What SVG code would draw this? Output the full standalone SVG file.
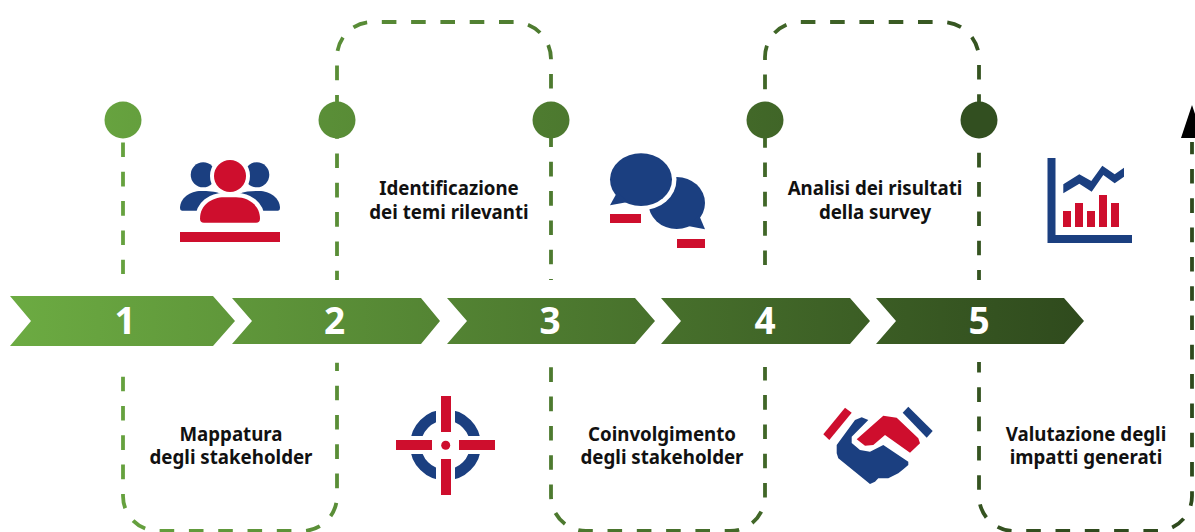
<svg xmlns="http://www.w3.org/2000/svg" width="1195" height="532" viewBox="0 0 1195 532">
<style>
.lbl{font:700 18.7px "Noto Sans","Open Sans",sans-serif;fill:#111;text-anchor:middle}
.num{font:700 37px "Noto Sans","Open Sans",sans-serif;fill:#fff;text-anchor:middle}
.dash{fill:none;stroke:url(#g);stroke-width:3.8;stroke-dasharray:14.6 14.7}
.blue{fill:#1b3f80}.red{fill:#ce0e2d}
</style>
<defs>
<linearGradient id="g" gradientUnits="userSpaceOnUse" x1="10" y1="0" x2="1084" y2="0">
<stop offset="0" stop-color="#6cab42"/><stop offset="1" stop-color="#2f4a1d"/>
</linearGradient>
</defs>
<rect width="1195" height="532" fill="#fff"/>
<g id="connectors">
<path class="dash" d="M123 142.500V274"/>
<path class="dash" d="M123 376.700V496A35 35 0 0 0 158 531H302A35 35 0 0 0 337 496V362.700"/>
<path class="dash" stroke-dashoffset="5.300" d="M337 280V57A35 35 0 0 1 372 22H514A37 37 0 0 1 551 59V280"/>
<path class="dash" d="M551 367.300V496A35 35 0 0 0 586 531H730A35 35 0 0 0 765 496V367"/>
<path class="dash" d="M765 265V57A35 35 0 0 1 800 22H942A37 37 0 0 1 979 59V280"/>
<path class="dash" stroke-dashoffset="4" d="M979 362V496A35 35 0 0 0 1014 531H1157A35 35 0 0 0 1192 496V142"/>
<polygon points="1192,105 1181,138 1203,138" fill="#000"/>
</g>
<g id="node-1">
<circle cx="123" cy="120" r="18.500" fill="url(#g)"/>
<polygon points="10,296 213,296 235,321 213,346 10,346 31,321" fill="url(#g)"/>
<text class="num" x="125" y="334">1</text>
<text class="lbl" x="231" y="441">Mappatura</text>
<text class="lbl" x="231" y="464">degli stakeholder</text>
<g id="icon-people">
<circle class="blue" cx="203.200" cy="174.800" r="12.500"/><circle class="blue" cx="256.800" cy="174.800" r="12.500"/>
<path class="blue" d="M182 210.700Q180 210.700 180 208C180 198 190 191 201 191C208 191 214 191 222 194L230 210.700Z"/>
<path class="blue" d="M278 210.700Q280 210.700 280 208C280 198 270 191 259 191C252 191 246 191 238 194L230 210.700Z"/>
<circle class="red" cx="230" cy="176" r="16" stroke="#fff" stroke-width="8" paint-order="stroke"/>
<path class="red" d="M204 222.700Q200 222.700 200 218.700C200 205 212 197.300 224 197.300H236C248 197.300 260 205 260 218.700Q260 222.700 256 222.700Z" stroke="#fff" stroke-width="9" paint-order="stroke"/>
<rect class="red" x="180" y="232" width="100" height="10"/>
</g>
</g>
<g id="node-2">
<circle cx="337" cy="120" r="18.500" fill="url(#g)"/>
<polygon points="232,298 421,298 440,321 421,344 232,344 252,321" fill="url(#g)"/>
<text class="num" x="334.500" y="334">2</text>
<text class="lbl" x="449" y="195">Identificazione</text>
<text class="lbl" x="449" y="219">dei temi rilevanti</text>
<g id="icon-target">
<circle cx="445.500" cy="445" r="30" fill="none" stroke="#1b3f80" stroke-width="11"/>
<rect x="436" y="396" width="19" height="99" fill="#fff"/>
<rect x="396" y="436" width="99" height="18" fill="#fff"/>
<rect class="red" x="441" y="396" width="10" height="36"/><rect class="red" x="441" y="459" width="10" height="36"/>
<rect class="red" x="396" y="440" width="36" height="10"/><rect class="red" x="459" y="440" width="36" height="10"/>
<circle class="red" cx="445.700" cy="445.300" r="4.500"/>
</g>
</g>
<g id="node-3">
<circle cx="551" cy="120" r="18.500" fill="url(#g)"/>
<polygon points="447,298 635,298 655,321 635,344 447,344 467,321" fill="url(#g)"/>
<text class="num" x="550" y="334">3</text>
<text class="lbl" x="662" y="441">Coinvolgimento</text>
<text class="lbl" x="662" y="464">degli stakeholder</text>
<g id="icon-chat">
<ellipse class="blue" cx="676.700" cy="203" rx="28.300" ry="26"/>
<polygon class="blue" points="699,215 705,229.300 688,226"/>
<ellipse cx="641" cy="179.600" rx="35.500" ry="30.800" fill="#fff"/>
<ellipse class="blue" cx="641" cy="179.600" rx="31" ry="26.300"/>
<polygon class="blue" points="617.300,192 610,205.300 628,202"/>
<rect class="red" x="610" y="214" width="31" height="9"/>
<rect class="red" x="677" y="239" width="28" height="9"/>
</g>
</g>
<g id="node-4">
<circle cx="765" cy="120" r="18.500" fill="url(#g)"/>
<polygon points="661,298 850,298 870,321 850,344 661,344 681,321" fill="url(#g)"/>
<text class="num" x="765" y="334">4</text>
<text class="lbl" x="875" y="195">Analisi dei risultati</text>
<text class="lbl" x="875" y="219">della survey</text>
<g id="icon-handshake">
<polygon class="red" points="845,407.700 851.700,412.700 829.300,440 823.300,434.300"/>
<polygon class="blue" points="908.300,406.700 932.700,431 926.700,437.700 902.700,412.700"/>
<polygon class="blue" points="836.700,445 855,420 861.700,417.300 868.300,420 851.700,436.700 851.700,443 860,450 870,451.700 883.300,445 908.300,461.700 908.300,465 903.300,469.300 898.300,473.300 888.300,478.300 878.300,478.300 875,481.700 870,484 838.300,458.300 836.700,453.300"/>
<polygon class="red" points="856.700,439.300 883.300,415.700 896.700,417.700 918.300,438.300 920,443.300 910,452.700 885,435 873.300,445 865,445.700"/>
</g>
</g>
<g id="node-5">
<circle cx="979" cy="120" r="18.500" fill="#324f20"/>
<polygon points="876,298 1064,298 1084,321 1064,344 876,344 896,321" fill="url(#g)"/>
<text class="num" x="979" y="334">5</text>
<text class="lbl" x="1086" y="441">Valutazione degli</text>
<text class="lbl" x="1086" y="464">impatti generati</text>
<g id="icon-chart">
<path class="blue" d="M1047.500 158H1055.500V235H1132V243H1047.500Z"/>
<polygon class="blue" points="1063.300,184.300 1079.300,174.300 1091.300,181 1102.300,165.700 1114.700,174.300 1124,167.700 1124,176.700 1114.700,183.300 1103.300,175 1091.700,191.700 1079.300,183.700 1063.300,193.300"/>
<rect class="red" x="1063" y="211" width="8" height="16"/><rect class="red" x="1075" y="203" width="8" height="24"/><rect class="red" x="1087" y="211" width="8" height="16"/><rect class="red" x="1099" y="195" width="8" height="32"/><rect class="red" x="1111" y="203" width="8" height="24"/>
</g>
</g>
</svg>
